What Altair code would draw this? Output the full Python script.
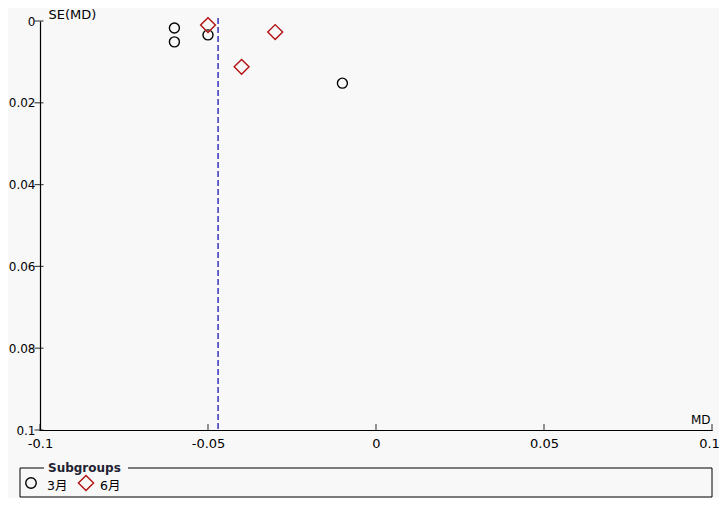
import altair as alt
import pandas as pd

# data
groups = ["3月", "3月", "3月", "3月", "6月", "6月", "6月"]
md = [-0.06, -0.06, -0.05, -0.01, -0.05, -0.04, -0.03]
se = [0.0017, 0.0051, 0.0034, 0.0152, 0.0010, 0.0112, 0.0027]
pooled_md = [-0.047]
x_ticks = [-0.1, -0.05, 0, 0.05, 0.1]
y_ticks = [0, 0.02, 0.04, 0.06, 0.08, 0.1]
legend_title = ["Subgroups"]
legend_labels = ["3月", "6月"]
group_shapes = ["circle", "diamond"]
group_colors = ["#000000", "#b01010"]
group_sizes = [100, 220]

df = pd.DataFrame({"MD": md, "SE": se, "group": groups})
FONT = "DejaVu Sans, Noto Sans CJK SC"
BG = "#f8f8f8"
W, H = 672, 409

xscale = alt.Scale(domain=[-0.1, 0.1], nice=False, zero=False)
yscale = alt.Scale(domain=[0, 0.1], reverse=True, nice=False)

lbl = "replace(format(datum.value, '~g'), '\u2212', '-')"

points = alt.Chart(df).mark_point(filled=False, strokeWidth=1.4, opacity=1).encode(
    x=alt.X("MD:Q", scale=xscale,
            axis=alt.Axis(values=x_ticks, labelExpr=lbl, title="MD", titleX=W - 2, titleY=-7,
                          titleAlign="right", titleBaseline="alphabetic", titleFontWeight="normal",
                          titleFontSize=12, grid=False, ticks=False, labelPadding=7,
                          labelFontSize=13, labelFlush=False,
                          labelOffset={"condition": {"test": "datum.value > 0.09", "value": -3},
                                       "value": 0})),
    y=alt.Y("SE:Q", scale=yscale,
            axis=alt.Axis(values=y_ticks, labelExpr=lbl, title="SE(MD)", titleAngle=0,
                          titleX=8, titleY=-3, titleAlign="left", titleBaseline="alphabetic",
                          titleFontWeight="normal", titleFontSize=13, grid=False, ticks=False,
                          labelPadding=5, labelFontSize=12, labelFlush=False)),
    shape=alt.Shape("group:N", scale=alt.Scale(domain=legend_labels, range=group_shapes), legend=None),
    stroke=alt.Stroke("group:N", scale=alt.Scale(domain=legend_labels, range=group_colors), legend=None),
    size=alt.Size("group:N", scale=alt.Scale(domain=legend_labels, range=group_sizes), legend=None),
)

# axis ticks that cross the axis lines
xt = alt.Chart(pd.DataFrame({"v": x_ticks})).mark_tick(
    orient="vertical", size=7, thickness=1.2, color="black"
).encode(x=alt.X("v:Q", scale=xscale), y=alt.value(H - 2.5))

yt = alt.Chart(pd.DataFrame({"v": y_ticks})).mark_tick(
    orient="horizontal", size=9, thickness=1.2, color="black"
).encode(y=alt.Y("v:Q", scale=yscale), x=alt.value(-1))

rule = alt.Chart(pd.DataFrame({"MD": pooled_md})).mark_rule(
    color="#3333bb", strokeDash=[6, 3], strokeWidth=1.5
).encode(x=alt.X("MD:Q", scale=xscale), y=alt.value(-3), y2=alt.value(H))

one = pd.DataFrame({"t": legend_title})

box = alt.Chart(one).mark_rect(
    fillOpacity=0, stroke="black", strokeWidth=1
).encode(x=alt.value(-20), x2=alt.value(672), y=alt.value(447), y2=alt.value(476))

gap = alt.Chart(one).mark_rect(fill=BG, stroke=None).encode(
    x=alt.value(4), x2=alt.value(88), y=alt.value(442), y2=alt.value(452))

title_txt = alt.Chart(one).mark_text(
    font=FONT, fontSize=12, fontWeight="bold", color="#222233", align="left", baseline="middle"
).encode(x=alt.value(8), y=alt.value(447), text="t:N")

# legend entries
leg_layers = []
sym_x = [-9, 46]
txt_x = [7, 60]
for i, lab in enumerate(legend_labels):
    d = pd.DataFrame({"t": [lab]})
    leg_layers.append(
        alt.Chart(d).mark_point(filled=False, strokeWidth=1.4, opacity=1).encode(
            x=alt.value(sym_x[i]), y=alt.value(462),
            shape=alt.value(group_shapes[i]), stroke=alt.value(group_colors[i]),
            size=alt.value(110 if i == 0 else 230))
    )
    leg_layers.append(
        alt.Chart(d).mark_text(font=FONT, fontSize=12.5, color="black", align="left",
                               baseline="middle").encode(
            x=alt.value(txt_x[i]), y=alt.value(465), text="t:N")
    )

chart = alt.layer(rule, xt, yt, points, box, gap, title_txt, *leg_layers).properties(
    width=W, height=H, background=BG,
    autosize=alt.AutoSizeParams(type="none"),
    padding={"left": 32, "top": 13, "right": 7, "bottom": 68},
).configure_view(stroke=None).configure_axis(
    labelFont=FONT, titleFont=FONT, labelColor="black", titleColor="black",
    domainColor="black", domainWidth=1.2,
)

chart.save("out.html", embed_options={"renderer": "svg", "actions": False})
